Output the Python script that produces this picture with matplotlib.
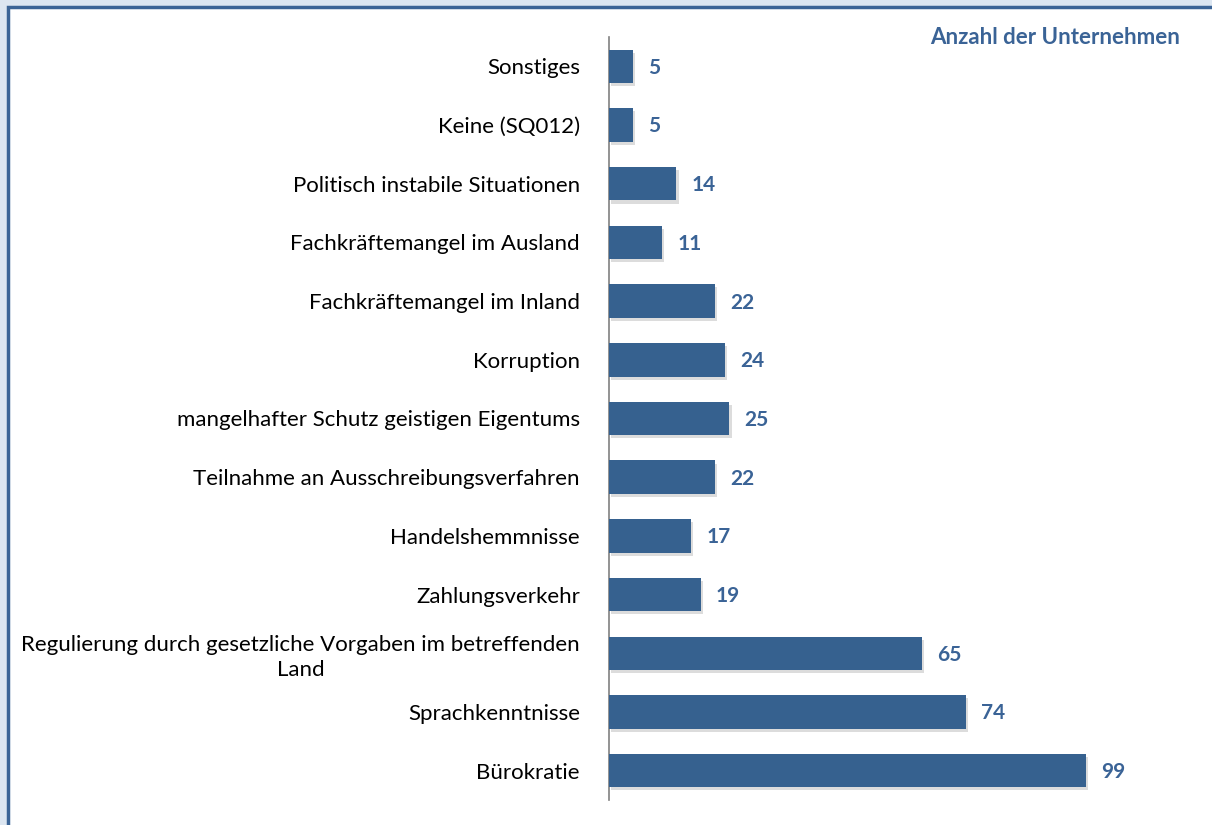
import matplotlib
matplotlib.use("Agg")
import matplotlib.pyplot as plt
from matplotlib.patches import Rectangle
import matplotlib.patheffects as pe

categories = [
    "Sonstiges",
    "Keine (SQ012)",
    "Politisch instabile Situationen",
    "Fachkräftemangel im Ausland",
    "Fachkräftemangel im Inland",
    "Korruption",
    "mangelhafter Schutz geistigen Eigentums",
    "Teilnahme an Ausschreibungsverfahren",
    "Handelshemmnisse",
    "Zahlungsverkehr",
    "Regulierung durch gesetzliche Vorgaben im betreffenden\nLand",
    "Sprachkenntnisse",
    "Bürokratie",
]
values = [5, 5, 14, 11, 22, 24, 25, 22, 17, 19, 65, 74, 99]
title = "Anzahl der Unternehmen"

plt.rcParams['font.family'] = ['Lato', 'DejaVu Sans']

W, H = 1212, 825
fig = plt.figure(figsize=(W / 100, H / 100), dpi=100)
fig.patch.set_facecolor('#dce6f1')

# white panel with blue border
panel = Rectangle((7.5 / W, -0.1), 1.2, (H - 7.5) / H + 0.1, transform=fig.transFigure,
                  facecolor='white', edgecolor='#3b6496', linewidth=2.5, zorder=-5)
fig.patches.append(panel)

bar_color = '#36618f'
label_color = '#3a6396'

x0 = 609
xmax_px = 1180
scale = (1086 - 609) / 99.0
ax = fig.add_axes([x0 / W, (H - 800) / H, (xmax_px - x0) / W, (800 - 37) / H])
ax.set_facecolor('none')
ax.set_zorder(2)

n = len(categories)
ypos = list(range(n))
bars = ax.barh(ypos, values, height=0.57, color=bar_color, zorder=3)
for b in bars:
    b.set_path_effects([pe.SimplePatchShadow(offset=(1.5, -2.2), shadow_rgbFace='#777777', alpha=0.25),
                        pe.Normal()])

ax.set_ylim(n - 0.5, -0.5)
ax.set_xlim(0, (xmax_px - x0) / scale)

for y, v in zip(ypos, values):
    ax.annotate(str(v), xy=(v, y), xytext=(11, -1), textcoords='offset points',
                ha='left', va='center', fontsize=15, fontweight='bold', color=label_color)

ax.set_yticks(ypos)
ax.set_yticklabels(categories, fontsize=16, color='black', ha='right',
                   multialignment='center', linespacing=1.3)
ax.tick_params(axis='y', length=0, pad=21)
ax.set_xticks([])
for s in ['top', 'right', 'bottom']:
    ax.spines[s].set_visible(False)
ax.spines['left'].set_color('#808080')
ax.spines['left'].set_linewidth(1.2)

fig.text(1180 / W, 1 - 37 / H, title, ha='right', va='center', fontsize=16,
         fontweight='bold', color=label_color)

fig.savefig('out.png', dpi=100, facecolor=fig.get_facecolor())
